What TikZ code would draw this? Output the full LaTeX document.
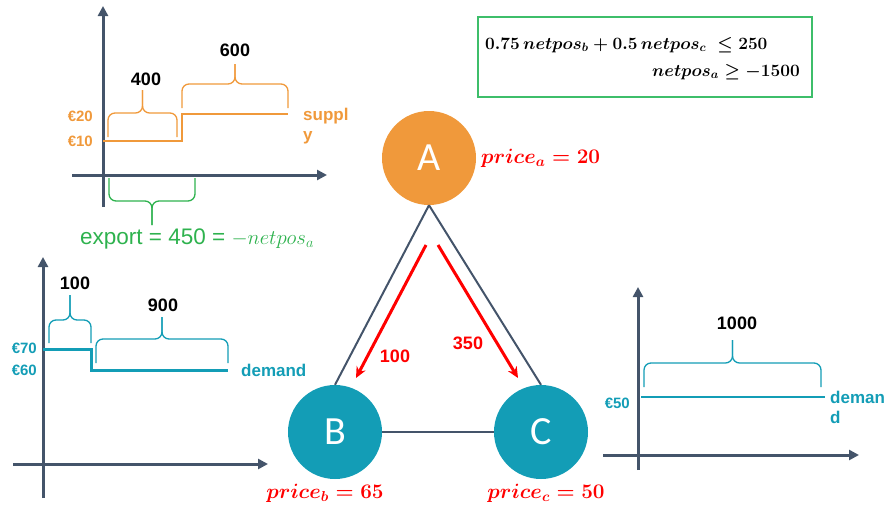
\documentclass[tikz,border=0pt]{standalone}
\usepackage{fontspec}
\setmainfont{Liberation Sans}
\newfontfamily\carlito{Carlito}
\usetikzlibrary{arrows.meta}
\definecolor{orA}{HTML}{F0993B}
\definecolor{tealB}{HTML}{139DB6}
\definecolor{axisc}{HTML}{44546A}
\definecolor{grn}{HTML}{2EB24E}
\definecolor{boxg}{HTML}{3DBE6A}
\definecolor{redc}{HTML}{FF0000}
\newcommand{\pbr}[6]{%
  \draw[#1,rounded corners=7pt] (#2,#4) -- (#2,#5) -- ({(#2+#3)/2},#5) -- ({(#2+#3)/2},#6);
  \draw[#1,rounded corners=7pt] (#3,#4) -- (#3,#5) -- ({(#2+#3)/2},#5) -- ({(#2+#3)/2},#6);}
\tikzset{
  axisline/.style={axisc, line width=3pt, -{Triangle[length=10pt,width=10pt]}},
  bus/.style={circle, minimum size=94pt, inner sep=0pt, text=white, font=\carlito\fontsize{40}{40}\selectfont},
  link/.style={axisc, line width=2pt},
  flow/.style={redc, line width=3pt, -{Stealth[length=11pt,width=10pt]}},
  num/.style={font=\bfseries\fontsize{18}{18}\selectfont, inner sep=0pt},
  price/.style={redc, font=\fontsize{20}{20}\selectfont\boldmath, inner sep=0pt},
  lab/.style={font=\bfseries\fontsize{15}{15}\selectfont, inner sep=0pt},
  curve/.style={font=\bfseries\fontsize{17}{20}\selectfont, inner sep=0pt, align=left},
  brc/.style={line width=1.3pt},
}
\begin{document}
\begin{tikzpicture}[x=1pt,y=-1pt]
\useasboundingbox (0,0) rectangle (890,506);
% ---------- network ----------
\node[bus, fill=orA] (A) at (429,158) {A};
\node[bus, fill=tealB] (B) at (335,432) {B};
\node[bus, fill=tealB] (C) at (541,432) {C};
\draw[link] (A.south) -- (B.north);
\draw[link] (A.south) -- (C.north);
\draw[link] (B.east) -- (C.west);
\coordinate (f1s) at (426,245);
\coordinate (f1e) at (356,378);
\coordinate (f2s) at (438,245);
\coordinate (f2e) at (518,378);
\draw[flow] (f1s) -- (f1e);
\draw[flow] (f2s) -- (f2e);
\node[num, redc] (l100) at (395,356) {100};
\node[num, redc] (l350) at (468,343) {350};
\node[price, anchor=west] (pa) at (481,158) {$price_a = 20$};
\node[price] (pb) at (325,493) {$price_b = 65$};
\node[price] (pc) at (546,493) {$price_c = 50$};
% ---------- constraint box ----------
\node[draw=boxg, line width=1.5pt, minimum width=334pt, minimum height=80pt] (box) at (645,57) {};
\node[inner sep=0pt, anchor=west, font=\fontsize{16.6}{16.6}\selectfont\boldmath] (c1) at (485,45) {$0.75\,netpos_b + 0.5\,netpos_c\;\leq 250$};
\node[inner sep=0pt, anchor=east, font=\fontsize{16.6}{16.6}\selectfont\boldmath] (c2) at (800,72) {$netpos_a \geq -1500$};
% ---------- supply chart (A) ----------
\draw[axisline] (103,207) -- (103,6);
\draw[axisline] (72,175) -- (327,175);
\draw[orA, line width=1.6pt] (103,141) -- (182,141) -- (182,114) -- (288,114);
\pbr{orA,brc}{108}{177}{137}{113}{90}
\pbr{orA,brc}{182}{288}{108}{84}{64}
\node[num] (n400) at (146,79) {400};
\node[num] (n600) at (235,50) {600};
\node[lab, orA, anchor=east] (e20) at (93,116) {€20};
\node[lab, orA, anchor=east] (e10) at (93,141) {€10};
\node[curve, orA, anchor=west] (sup) at (303,126) {suppl\\y};
\pbr{grn,brc}{109}{195}{178}{201}{225}
\node[grn, inner sep=0pt, font=\fontsize{22.5}{22.5}\selectfont, anchor=west] (exp) at (80,239) {export = 450 = $-netpos_a$};
% ---------- demand chart (B) ----------
\draw[axisline] (43,498) -- (43,257);
\draw[axisline] (13,464) -- (268,464);
\draw[tealB, line width=3pt] (43,349) -- (91,349) -- (91,370) -- (228,370);
\pbr{tealB,brc}{49}{91}{343}{320}{295}
\pbr{tealB,brc}{96}{228}{363}{339}{317}
\node[num] (n100) at (75,283) {100};
\node[num] (n900) at (163,305) {900};
\node[lab, tealB, anchor=east] (e70) at (37,348) {€70};
\node[lab, tealB, anchor=east] (e60) at (37,370) {€60};
\node[curve, tealB, anchor=west] (demB) at (241,370) {demand};
% ---------- demand chart (C) ----------
\draw[axisline] (638,470) -- (638,287);
\draw[axisline] (603,455) -- (859,455);
\draw[tealB, line width=2pt] (641,397) -- (825,397);
\pbr{tealB,brc}{644}{821}{387}{363}{340}
\node[num] (n1000) at (737,323) {1000};
\node[lab, tealB, anchor=east] (e50) at (630,403) {€50};
\node[curve, tealB, anchor=west] (demC) at (830,407) {deman\\d};
\end{tikzpicture}
\end{document}
